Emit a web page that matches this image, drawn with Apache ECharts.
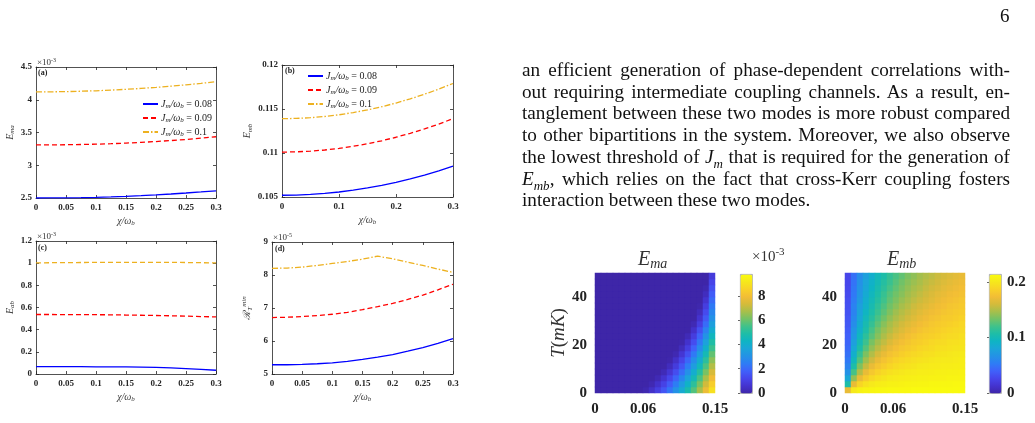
<!DOCTYPE html>
<html>
<head>
<meta charset="utf-8">
<script src="https://cdn.jsdelivr.net/npm/echarts@6/dist/echarts.min.js"></script>
<style>
body{margin:0;background:#fff;}
#chart{position:absolute;left:0;top:0;width:1035px;height:423px;}
#txt{position:absolute;left:522px;top:59px;width:488px;font-family:"Liberation Serif","Times New Roman",serif;font-size:19.2px;line-height:21.7px;color:#111;}
#txt div{text-align:justify;text-align-last:justify;white-space:nowrap;}
#txt div.last{text-align-last:left;}
#txt sub{font-size:13px;line-height:0;}
#pg{position:absolute;left:1000px;top:5px;font-family:"Liberation Serif",serif;font-size:19px;color:#111;}
</style>
</head>
<body>
<div id="chart"></div>
<div id="pg">6</div>
<div id="txt">
<div>an efficient generation of phase-dependent correlations with-</div>
<div>out requiring intermediate coupling channels. As a result, en-</div>
<div>tanglement between these two modes is more robust compared</div>
<div>to other bipartitions in the system. Moreover, we also observe</div>
<div>the lowest threshold of <i>J<sub>m</sub></i> that is required for the generation of</div>
<div><i>E<sub>mb</sub></i>, which relies on the fact that cross-Kerr coupling fosters</div>
<div class="last">interaction between these two modes.</div>
</div>
<script>
// x axis of the four line panels
var chi = [0, 0.025, 0.05, 0.075, 0.1, 0.125, 0.15, 0.175, 0.2, 0.225, 0.25, 0.275, 0.3];
var jmValues = ['0.08', '0.09', '0.1'];

// (a) E_ma  (x1e-3)
var emaJ08 = [2.500, 2.501, 2.503, 2.506, 2.511, 2.517, 2.526, 2.536, 2.548, 2.561, 2.576, 2.592, 2.610];
var emaJ09 = [3.310, 3.311, 3.313, 3.317, 3.322, 3.329, 3.338, 3.349, 3.362, 3.377, 3.394, 3.413, 3.435];
var emaJ10 = [4.120, 4.121, 4.124, 4.130, 4.137, 4.147, 4.159, 4.173, 4.189, 4.207, 4.228, 4.250, 4.275];
// (b) E_mb
var embJ08 = [0.10520, 0.10522, 0.10529, 0.10541, 0.10557, 0.10577, 0.10603, 0.10632, 0.10667, 0.10706, 0.10749, 0.10797, 0.10850];
var embJ09 = [0.11010, 0.11013, 0.11021, 0.11034, 0.11052, 0.11076, 0.11105, 0.11139, 0.11179, 0.11224, 0.11274, 0.11329, 0.11390];
var embJ10 = [0.11390, 0.11393, 0.11401, 0.11415, 0.11434, 0.11460, 0.11490, 0.11526, 0.11568, 0.11615, 0.11668, 0.11726, 0.11790];
// (c) E_ab  (x1e-3)
var eabJ08 = [0.066, 0.066, 0.066, 0.066, 0.065, 0.065, 0.064, 0.062, 0.059, 0.055, 0.049, 0.042, 0.034];
var eabJ09 = [0.537, 0.537, 0.536, 0.536, 0.535, 0.534, 0.532, 0.530, 0.528, 0.525, 0.522, 0.518, 0.515];
var eabJ10 = [1.003, 1.004, 1.005, 1.006, 1.007, 1.008, 1.008, 1.008, 1.008, 1.007, 1.006, 1.004, 1.002];
// (d) R_T^min  (x1e-5)
var rtJ08 = [5.28, 5.28, 5.29, 5.31, 5.34, 5.38, 5.44, 5.51, 5.59, 5.69, 5.80, 5.93, 6.07];
var rtJ09 = [6.71, 6.72, 6.74, 6.77, 6.81, 6.87, 6.95, 7.04, 7.14, 7.26, 7.39, 7.55, 7.72];
var rtJ10 = [8.20, 8.21, 8.24, 8.29, 8.35, 8.41, 8.48, 8.57, 8.49, 8.39, 8.29, 8.18, 8.08];

// heatmap cells: chi/omega_b (0 .. 0.15) and T in mK (0 .. 50), rows from T=0 upward
var hmChi = ['0.00375', '0.01125', '0.01875', '0.02625', '0.03375', '0.04125', '0.04875', '0.05625', '0.06375', '0.07125',
    '0.07875', '0.08625', '0.09375', '0.10125', '0.10875', '0.11625', '0.12375', '0.13125', '0.13875', '0.14625'];
var hmT = ['1.25', '3.75', '6.25', '8.75', '11.25', '13.75', '16.25', '18.75', '21.25', '23.75',
    '26.25', '28.75', '31.25', '33.75', '36.25', '38.75', '41.25', '43.75', '46.25', '48.75'];
var hmChiTicks = [0, 0.06, 0.15];

// E_ma map (x1e-3)
var emaMap = [
    [0, 0, 0, 0, 0, 0, 0, 0, 0.13, 0.50, 0.99, 1.59, 2.28, 3.05, 3.88, 4.78, 5.74, 6.77, 7.84, 8.97],
    [0, 0, 0, 0, 0, 0, 0, 0, 0, 0.16, 0.56, 1.10, 1.75, 2.49, 3.32, 4.21, 5.18, 6.21, 7.31, 8.46],
    [0, 0, 0, 0, 0, 0, 0, 0, 0, 0, 0.20, 0.64, 1.23, 1.93, 2.74, 3.63, 4.59, 5.64, 6.76, 7.94],
    [0, 0, 0, 0, 0, 0, 0, 0, 0, 0, 0, 0.24, 0.73, 1.38, 2.15, 3.03, 4.01, 5.06, 6.20, 7.42],
    [0, 0, 0, 0, 0, 0, 0, 0, 0, 0, 0, 0.01, 0.33, 0.89, 1.61, 2.47, 3.43, 4.49, 5.66, 6.90],
    [0, 0, 0, 0, 0, 0, 0, 0, 0, 0, 0, 0, 0.06, 0.50, 1.15, 1.96, 2.92, 3.98, 5.16, 6.42],
    [0, 0, 0, 0, 0, 0, 0, 0, 0, 0, 0, 0, 0, 0.16, 0.71, 1.46, 2.39, 3.45, 4.63, 5.93],
    [0, 0, 0, 0, 0, 0, 0, 0, 0, 0, 0, 0, 0, 0, 0.31, 0.97, 1.85, 2.90, 4.10, 5.43],
    [0, 0, 0, 0, 0, 0, 0, 0, 0, 0, 0, 0, 0, 0, 0.04, 0.56, 1.37, 2.39, 3.59, 4.94],
    [0, 0, 0, 0, 0, 0, 0, 0, 0, 0, 0, 0, 0, 0, 0, 0.23, 0.94, 1.92, 3.10, 4.45],
    [0, 0, 0, 0, 0, 0, 0, 0, 0, 0, 0, 0, 0, 0, 0, 0.01, 0.54, 1.45, 2.60, 3.96],
    [0, 0, 0, 0, 0, 0, 0, 0, 0, 0, 0, 0, 0, 0, 0, 0, 0.19, 0.98, 2.10, 3.47],
    [0, 0, 0, 0, 0, 0, 0, 0, 0, 0, 0, 0, 0, 0, 0, 0, 0, 0.61, 1.68, 3.06],
    [0, 0, 0, 0, 0, 0, 0, 0, 0, 0, 0, 0, 0, 0, 0, 0, 0, 0.32, 1.33, 2.73],
    [0, 0, 0, 0, 0, 0, 0, 0, 0, 0, 0, 0, 0, 0, 0, 0, 0, 0.08, 0.98, 2.40],
    [0, 0, 0, 0, 0, 0, 0, 0, 0, 0, 0, 0, 0, 0, 0, 0, 0, 0, 0.63, 2.06],
    [0, 0, 0, 0, 0, 0, 0, 0, 0, 0, 0, 0, 0, 0, 0, 0, 0, 0, 0.34, 1.74],
    [0, 0, 0, 0, 0, 0, 0, 0, 0, 0, 0, 0, 0, 0, 0, 0, 0, 0, 0.12, 1.46],
    [0, 0, 0, 0, 0, 0, 0, 0, 0, 0, 0, 0, 0, 0, 0, 0, 0, 0, 0, 1.17],
    [0, 0, 0, 0, 0, 0, 0, 0, 0, 0, 0, 0, 0, 0, 0, 0, 0, 0, 0, 0.86]
];
// E_mb map
var embMap = [
    [0.170, 0.201, 0.207, 0.209, 0.210, 0.211, 0.211, 0.212, 0.212, 0.212, 0.212, 0.213, 0.213, 0.213, 0.213, 0.213, 0.213, 0.213, 0.213, 0.213],
    [0.107, 0.170, 0.189, 0.197, 0.201, 0.204, 0.205, 0.207, 0.207, 0.208, 0.209, 0.209, 0.210, 0.210, 0.211, 0.211, 0.211, 0.211, 0.212, 0.212],
    [0.082, 0.142, 0.170, 0.183, 0.191, 0.196, 0.199, 0.202, 0.203, 0.204, 0.205, 0.206, 0.207, 0.207, 0.208, 0.208, 0.208, 0.209, 0.209, 0.209],
    [0.067, 0.122, 0.151, 0.170, 0.181, 0.187, 0.192, 0.196, 0.198, 0.200, 0.202, 0.203, 0.204, 0.204, 0.205, 0.206, 0.206, 0.207, 0.207, 0.208],
    [0.058, 0.107, 0.137, 0.156, 0.170, 0.179, 0.184, 0.189, 0.193, 0.195, 0.197, 0.199, 0.201, 0.202, 0.203, 0.203, 0.204, 0.204, 0.205, 0.205],
    [0.052, 0.097, 0.125, 0.145, 0.159, 0.170, 0.178, 0.183, 0.187, 0.190, 0.193, 0.195, 0.197, 0.198, 0.200, 0.201, 0.202, 0.202, 0.203, 0.204],
    [0.048, 0.089, 0.116, 0.136, 0.150, 0.161, 0.170, 0.177, 0.181, 0.185, 0.188, 0.191, 0.193, 0.195, 0.196, 0.198, 0.199, 0.200, 0.201, 0.202],
    [0.045, 0.082, 0.107, 0.126, 0.142, 0.153, 0.162, 0.170, 0.176, 0.180, 0.183, 0.186, 0.189, 0.191, 0.193, 0.195, 0.196, 0.197, 0.198, 0.199],
    [0.042, 0.076, 0.101, 0.119, 0.135, 0.146, 0.155, 0.163, 0.170, 0.175, 0.179, 0.183, 0.185, 0.187, 0.190, 0.192, 0.193, 0.195, 0.196, 0.197],
    [0.040, 0.071, 0.096, 0.113, 0.127, 0.139, 0.149, 0.157, 0.164, 0.170, 0.175, 0.179, 0.182, 0.184, 0.186, 0.188, 0.190, 0.192, 0.193, 0.195],
    [0.038, 0.068, 0.090, 0.107, 0.122, 0.134, 0.144, 0.151, 0.158, 0.164, 0.170, 0.174, 0.178, 0.181, 0.183, 0.185, 0.187, 0.189, 0.191, 0.192],
    [0.036, 0.064, 0.086, 0.103, 0.116, 0.128, 0.139, 0.147, 0.154, 0.160, 0.165, 0.170, 0.174, 0.177, 0.180, 0.182, 0.184, 0.186, 0.188, 0.190],
    [0.035, 0.061, 0.082, 0.099, 0.111, 0.123, 0.133, 0.142, 0.149, 0.155, 0.160, 0.165, 0.170, 0.173, 0.177, 0.179, 0.182, 0.183, 0.185, 0.187],
    [0.033, 0.058, 0.079, 0.095, 0.107, 0.118, 0.128, 0.137, 0.145, 0.151, 0.156, 0.161, 0.166, 0.170, 0.173, 0.176, 0.179, 0.181, 0.183, 0.184],
    [0.032, 0.057, 0.076, 0.090, 0.103, 0.114, 0.124, 0.133, 0.140, 0.147, 0.152, 0.158, 0.162, 0.166, 0.170, 0.173, 0.176, 0.179, 0.180, 0.182],
    [0.031, 0.054, 0.072, 0.088, 0.100, 0.110, 0.120, 0.129, 0.136, 0.143, 0.148, 0.154, 0.158, 0.162, 0.166, 0.170, 0.173, 0.176, 0.178, 0.180],
    [0.029, 0.052, 0.070, 0.085, 0.097, 0.107, 0.117, 0.126, 0.133, 0.139, 0.145, 0.150, 0.155, 0.159, 0.163, 0.167, 0.170, 0.173, 0.175, 0.177],
    [0.028, 0.051, 0.068, 0.082, 0.094, 0.104, 0.113, 0.122, 0.129, 0.136, 0.142, 0.147, 0.151, 0.156, 0.160, 0.163, 0.167, 0.170, 0.172, 0.175],
    [0.027, 0.049, 0.066, 0.080, 0.091, 0.101, 0.110, 0.118, 0.126, 0.133, 0.139, 0.144, 0.148, 0.153, 0.157, 0.160, 0.164, 0.167, 0.170, 0.172],
    [0.026, 0.048, 0.064, 0.077, 0.088, 0.099, 0.107, 0.116, 0.123, 0.129, 0.136, 0.141, 0.146, 0.150, 0.154, 0.158, 0.161, 0.164, 0.167, 0.170]
];

var parula = ['#3e26a8', '#4433cf', '#4746eb', '#4060fa', '#2e7cf5', '#2492e6', '#1ba5d9', '#0eb4c4',
    '#1dbda8', '#3fc28b', '#73c266', '#a7bf4b', '#d4bb3b', '#f2bd36', '#f8d228', '#f6e81c', '#f9fb0e'];

var serif = '"Liberation Serif","Times New Roman",serif';
var axisCol = '#262626';
var lineColors = ['#0000ff', '#ff0000', '#edb120'];
var dashes = ['solid', [5, 3], [6, 2, 1.5, 2]];

var mathRich = {
    i: {fontFamily: serif, fontStyle: 'italic', fontSize: 10, color: '#404040'},
    s: {fontFamily: serif, fontStyle: 'italic', fontSize: 7, color: '#404040', padding: [5, 0, 0, 0]},
    p: {fontFamily: serif, fontStyle: 'italic', fontSize: 7, color: '#404040', padding: [0, 0, 6, 0]}
};

var chart = echarts.init(document.getElementById('chart'));

var panels = [
    {rect: [36, 67, 180, 131], ys: [emaJ08, emaJ09, emaJ10], ymin: 2.5, ymax: 4.5, yint: 0.5, xint: 0.05,
        yname: '{i|E}{s|ma}', gap: 20, dash3: dashes[2]},
    {rect: [282, 65, 171, 132], ys: [embJ08, embJ09, embJ10], ymin: 0.105, ymax: 0.12, yint: 0.005, xint: 0.1,
        yname: '{i|E}{s|mb}', gap: 27, dash3: dashes[2]},
    {rect: [36, 241, 180, 133], ys: [eabJ08, eabJ09, eabJ10], ymin: 0, ymax: 1.2, yint: 0.2, xint: 0.05,
        yname: '{i|E}{s|ab}', gap: 20, dash3: [5, 3]},
    {rect: [272, 242, 181, 132], ys: [rtJ08, rtJ09, rtJ10], ymin: 5, ymax: 9, yint: 1, xint: 0.05,
        yname: '{i|ℛ}{s|T}{p|min}', gap: 18, dash3: dashes[2]}
];

function fmt(v) { return String(+v.toFixed(4)); }

var grids = [], xAxes = [], yAxes = [], series = [];
var tickLabel = {fontFamily: serif, fontWeight: 'bold', fontSize: 9, color: '#262626'};

panels.forEach(function (p) {
    grids.push({left: p.rect[0], top: p.rect[1], width: p.rect[2], height: p.rect[3]});
    var gi = grids.length - 1;
    var xi = xAxes.length, yi = yAxes.length;
    var common = {
        gridIndex: gi, type: 'value',
        axisLine: {onZero: false, lineStyle: {color: axisCol, width: 0.8}},
        axisTick: {inside: true, length: 3, lineStyle: {color: axisCol, width: 0.8}},
        splitLine: {show: false}
    };
    xAxes.push(Object.assign({}, common, {
        min: 0, max: 0.3, interval: p.xint, position: 'bottom',
        axisLabel: Object.assign({margin: 5, formatter: fmt}, tickLabel),
        name: '{i|χ/ω}{s|b}', nameLocation: 'middle', nameGap: 17,
        nameTextStyle: {rich: mathRich}
    }));
    xAxes.push(Object.assign({}, common, {
        min: 0, max: 0.3, interval: p.xint, position: 'top', axisLabel: {show: false}
    }));
    yAxes.push(Object.assign({}, common, {
        min: p.ymin, max: p.ymax, interval: p.yint, position: 'left',
        axisLabel: Object.assign({margin: 4, formatter: fmt}, tickLabel),
        name: p.yname, nameLocation: 'middle', nameGap: p.gap,
        nameTextStyle: {rich: mathRich}
    }));
    yAxes.push(Object.assign({}, common, {
        min: p.ymin, max: p.ymax, interval: p.yint, position: 'right', axisLabel: {show: false}
    }));
    p.ys.forEach(function (vals, k) {
        series.push({
            name: jmValues[k], type: 'line', xAxisIndex: xi, yAxisIndex: yi,
            symbol: 'none', silent: true, animation: false,
            lineStyle: {color: lineColors[k], width: 1.3, type: k === 2 ? p.dash3 : dashes[k]},
            itemStyle: {color: lineColors[k]},
            data: chi.map(function (x, j) { return [x, vals[j]]; })
        });
    });
});

// heatmaps with colour bars
var heat = [
    {rect: [595, 273, 120, 120], map: emaMap, max: 9.8, cbInt: 2, cb: [740, 274, 12, 119], yname: true},
    {rect: [845, 273, 120, 120], map: embMap, max: 0.214, cbInt: 0.1, cb: [989, 274, 12, 119], yname: false}
];
var bigLabel = {fontFamily: serif, fontWeight: 'bold', fontSize: 15, color: '#222'};
var visualMaps = [];

heat.forEach(function (h) {
    grids.push({left: h.rect[0], top: h.rect[1], width: h.rect[2], height: h.rect[3]});
    var gi = grids.length - 1;
    xAxes.push({gridIndex: gi, type: 'category', data: hmChi, show: false});
    yAxes.push({gridIndex: gi, type: 'category', data: hmT, show: false});
    var data = [];
    h.map.forEach(function (row, r) {
        row.forEach(function (v, c) { data.push([c, r, v]); });
    });
    series.push({
        type: 'heatmap', xAxisIndex: xAxes.length - 1, yAxisIndex: yAxes.length - 1,
        data: data, silent: true, animation: false, progressive: 0,
        itemStyle: {borderWidth: 0}
    });
    visualMaps.push({
        type: 'continuous', seriesIndex: series.length - 1, min: 0, max: h.max,
        inRange: {color: parula}, calculable: false, hoverLink: false,
        left: h.cb[0], top: h.cb[1], itemWidth: h.cb[2], itemHeight: h.cb[3],
        padding: 0, borderWidth: 0.8, borderColor: '#999', text: null, textGap: 0
    });

    // tick axes laid over the heatmap
    grids.push({left: h.rect[0], top: h.rect[1], width: h.rect[2], height: h.rect[3]});
    gi = grids.length - 1;
    xAxes.push({
        gridIndex: gi, type: 'value', min: 0, max: 0.15,
        axisLine: {show: false}, axisTick: {show: false}, splitLine: {show: false},
        axisLabel: Object.assign({customValues: hmChiTicks, margin: 9, formatter: fmt}, bigLabel)
    });
    yAxes.push({
        gridIndex: gi, type: 'value', min: 0, max: 50, interval: 20,
        axisLine: {show: false}, axisTick: {show: false}, splitLine: {show: false},
        axisLabel: Object.assign({margin: 8, showMaxLabel: false}, bigLabel),
        name: h.yname ? '{i|T}{n|(}{i|mK}{n|)}' : '', nameLocation: 'middle', nameGap: 24,
        nameTextStyle: {rich: {
            i: {fontFamily: serif, fontStyle: 'italic', fontSize: 19, color: '#333'},
            n: {fontFamily: serif, fontSize: 19, color: '#333'}
        }}
    });

    // colour bar axis
    grids.push({left: h.cb[0], top: h.cb[1], width: h.cb[2], height: h.cb[3]});
    gi = grids.length - 1;
    xAxes.push({gridIndex: gi, type: 'value', show: false, min: 0, max: 1});
    yAxes.push({
        gridIndex: gi, type: 'value', position: 'right', min: 0, max: h.max, interval: h.cbInt,
        axisLine: {show: false}, splitLine: {show: false},
        axisTick: {inside: true, length: 2, lineStyle: {color: '#666'}},
        axisLabel: Object.assign({margin: 6, showMaxLabel: false, formatter: fmt}, bigLabel)
    });
});

function legendFor(left, top) {
    return {
        data: jmValues, orient: 'vertical', left: left, top: top,
        itemWidth: 15, itemHeight: 8, itemGap: 3, selectedMode: false,
        itemStyle: {opacity: 0},
        formatter: function (n) { return '{i|J}{s|m}{i|/ω}{s|b}{t| = ' + n + '}'; },
        textStyle: {padding: [0, 0, 0, -2], rich: {
            i: {fontFamily: serif, fontStyle: 'italic', fontSize: 10, color: '#222'},
            s: {fontFamily: serif, fontStyle: 'italic', fontSize: 7, color: '#222', padding: [5, 0, 0, 0]},
            t: {fontFamily: serif, fontSize: 10, color: '#222'}
        }}
    };
}

var sup = {fontFamily: serif, fontSize: 7, color: '#333', padding: [0, 0, 6, 0]};
function txt(x, y, text, size, extra) {
    return Object.assign({
        type: 'text', left: x, top: y, silent: true,
        style: {text: text, font: size + 'px ' + serif, fill: '#333',
            rich: {b: {fontFamily: serif, fontSize: size, color: '#333'},
                sup: Object.assign({}, sup, {fontSize: Math.round(size * 0.7), padding: [0, 0, size * 0.6, 0]}),
                i: {fontFamily: serif, fontStyle: 'italic', fontSize: size, color: '#222'},
                s: {fontFamily: serif, fontStyle: 'italic', fontSize: Math.round(size * 0.7), color: '#222', padding: [size * 0.45, 0, 0, 0]}}}
    }, extra || {});
}

var graphics = [
    txt(37, 57, '{b|×10}{sup|-3}', 9),
    txt(37, 231, '{b|×10}{sup|-3}', 9),
    txt(273, 232, '{b|×10}{sup|-5}', 9),
    txt(38, 69, '(a)', 8, {style: {text: '(a)', font: 'bold 8px ' + serif, fill: '#222'}}),
    txt(285, 67, '(b)', 8, {style: {text: '(b)', font: 'bold 8px ' + serif, fill: '#222'}}),
    txt(38, 244, '(c)', 8, {style: {text: '(c)', font: 'bold 8px ' + serif, fill: '#222'}}),
    txt(275, 245, '(d)', 8, {style: {text: '(d)', font: 'bold 8px ' + serif, fill: '#222'}}),
    txt(600, 277, '(a)', 18, {style: {text: '(a)', font: 'bold 18px ' + serif, fill: '#fff'}}),
    txt(850, 277, '(b)', 18, {style: {text: '(b)', font: 'bold 18px ' + serif, fill: '#fff'}}),
    txt(638, 250, '{i|E}{s|ma}', 20),
    txt(887, 250, '{i|E}{s|mb}', 20),
    txt(752, 247, '{b|×10}{sup|-3}', 15)
];

chart.setOption({
    backgroundColor: '#fff',
    animation: false,
    grid: grids,
    xAxis: xAxes,
    yAxis: yAxes,
    legend: [legendFor(137, 94), legendFor(302, 66)],
    visualMap: visualMaps,
    series: series,
    graphic: graphics
});

window.addEventListener('resize', function () { chart.resize(); });
</script>
</body>
</html>
